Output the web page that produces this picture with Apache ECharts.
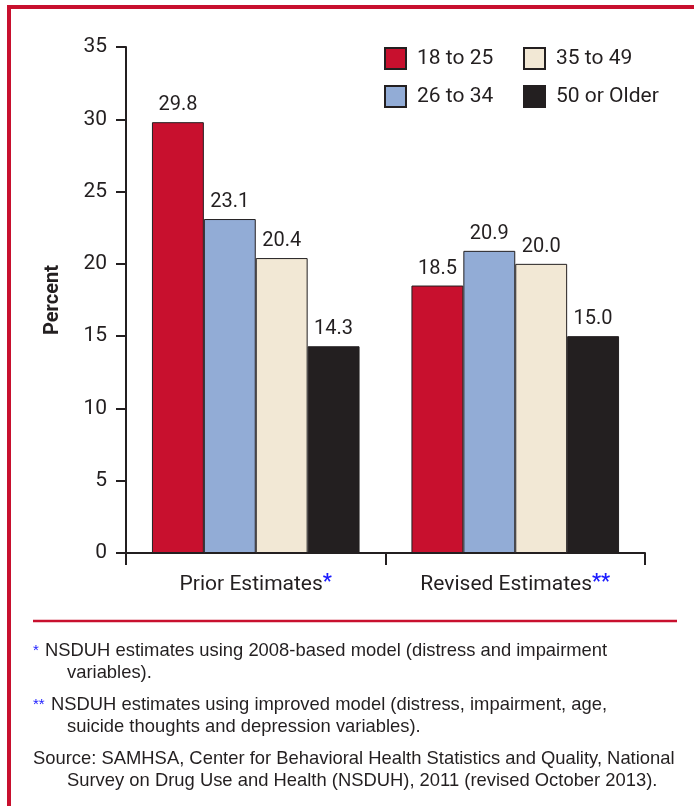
<!DOCTYPE html>
<html>
<head>
<meta charset="utf-8">
<script src="https://cdn.jsdelivr.net/npm/echarts@6/dist/echarts.min.js"></script>
<style>
  html, body { margin: 0; padding: 0; background: #fff; }
  #chart { width: 694px; height: 806px; }
</style>
</head>
<body>
<div id="chart"></div>
<script>
// Serious psychological distress estimates by age group
const categories = ['Prior Estimates', 'Revised Estimates'];
const categoryMarks = ['*', '**'];
const seriesNames = ['18 to 25', '26 to 34', '35 to 49', '50 or Older'];
const age18to25 = [29.8, 18.5];
const age26to34 = [23.1, 20.9];
const age35to49 = [20.4, 20.0];
const age50plus = [14.3, 15.0];
const yTicks = [0, 5, 10, 15, 20, 25, 30, 35];
const footnotes = [
  ['*', 'NSDUH estimates using 2008-based model (distress and impairment', 'variables).'],
  ['**', 'NSDUH estimates using improved model (distress, impairment, age,', 'suicide thoughts and depression variables).'],
  ['', 'Source: SAMHSA, Center for Behavioral Health Statistics and Quality, National', 'Survey on Drug Use and Health (NSDUH), 2011 (revised October 2013).']
];

const colors = ['#c8102e', '#92acd6', '#f2e8d5', '#231f20'];
const ink = '#231f20';
const narrow = 'Roboto, "Liberation Sans", sans-serif';
const regular = '"Liberation Sans", Arial, sans-serif';

const seriesData = [age18to25, age26to34, age35to49, age50plus];

const chart = echarts.init(document.getElementById('chart'), null, { renderer: 'canvas' });

const series = seriesNames.map((name, i) => ({
  name: name,
  type: 'bar',
  data: seriesData[i],
  barGap: '0%',
  barCategoryGap: '20%',
  itemStyle: { color: colors[i], borderColor: ink, borderWidth: 1 },
  label: {
    show: true,
    position: 'top',
    distance: 7,
    formatter: p => p.value.toFixed(1),
    fontFamily: narrow,
    fontSize: 20,
    color: ink
  }
}));

// Frame, separator and footnotes with hanging indent
const graphics = [
  { type: 'rect', shape: { x: 9, y: 7, width: 760, height: 900 },
    style: { fill: 'none', stroke: '#c8102e', lineWidth: 4 }, z: 10 },
  { type: 'line', shape: { x1: 33, y1: 621, x2: 677, y2: 621 },
    style: { stroke: '#c8102e', lineWidth: 2.5 } }
];
const noteTops = [651, 705, 759];
footnotes.forEach((f, i) => {
  const y = noteTops[i];
  let x = 33;
  if (f[0]) {
    graphics.push({ type: 'text', left: x, top: y - 8,
      style: { text: f[0], fill: '#1a1aff', font: '15px ' + regular } });
    x += f[0].length === 1 ? 12 : 18;
  }
  graphics.push({ type: 'text', left: x, top: y - 9,
    style: { text: f[1], fill: ink, font: '18.4px ' + regular } });
  graphics.push({ type: 'text', left: 67, top: y + 13,
    style: { text: f[2], fill: ink, font: '18.4px ' + regular } });
});

const legendBase = {
  orient: 'vertical', top: 47, padding: 0,
  itemWidth: 21, itemHeight: 21, itemGap: 15, icon: 'rect',
  textStyle: { fontFamily: narrow, fontSize: 21, lineHeight: 21, color: ink, padding: [0, 0, 0, 6] }
};

chart.setOption({
  animation: false,
  backgroundColor: '#fff',
  grid: { left: 126, right: 49, top: 47, bottom: 253, containLabel: false },
  legend: [
    Object.assign({ data: seriesNames.slice(0, 2), left: 384 }, legendBase),
    Object.assign({ data: seriesNames.slice(2, 4), left: 523 }, legendBase)
  ],
  xAxis: {
    type: 'category',
    data: categories,
    axisLine: { lineStyle: { color: ink, width: 2 } },
    axisTick: { show: true, length: 12, inside: false, lineStyle: { color: ink, width: 2 } },
    axisLabel: {
      margin: 20,
      formatter: (v, idx) => '{t|' + v + '}{m|' + categoryMarks[idx] + '}',
      rich: {
        t: { fontFamily: narrow, fontSize: 21, color: ink },
        m: { fontFamily: narrow, fontSize: 20, color: '#1a1aff', fontWeight: 'bold', verticalAlign: 'top', padding: [0, 0, 4, 0] }
      }
    }
  },
  yAxis: {
    type: 'value',
    min: yTicks[0],
    max: yTicks[yTicks.length - 1],
    interval: yTicks[1] - yTicks[0],
    name: 'Percent',
    nameLocation: 'middle',
    nameGap: 63,
    nameRotate: 90,
    nameTextStyle: { fontFamily: narrow, fontSize: 20, fontWeight: 'bold', color: ink },
    axisLine: { show: true, lineStyle: { color: ink, width: 2 } },
    axisTick: { show: true, length: 10, lineStyle: { color: ink, width: 2 } },
    splitLine: { show: false },
    axisLabel: { margin: 19, fontFamily: narrow, fontSize: 21, color: ink }
  },
  series: series,
  graphic: graphics
});
</script>
</body>
</html>
